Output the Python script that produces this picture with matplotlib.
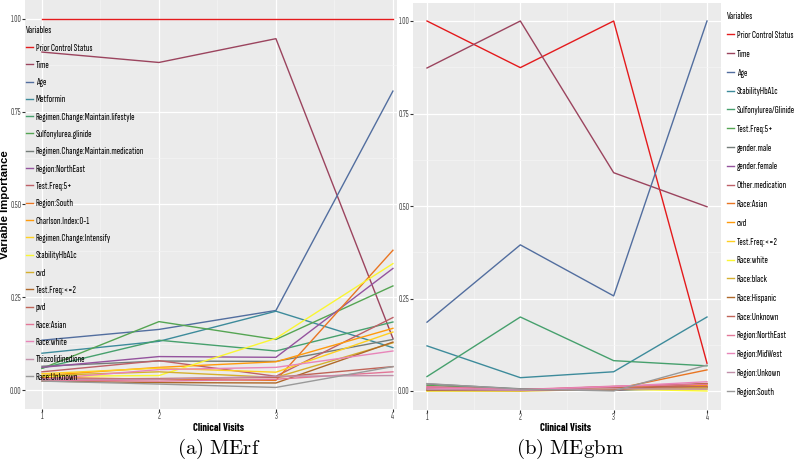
import numpy as np
import matplotlib
matplotlib.use("Agg")
import matplotlib.pyplot as plt
from matplotlib.colors import to_rgb
from matplotlib.ticker import MultipleLocator

plt.rcParams['font.family'] = ['Sofia Sans Extra Condensed', 'DejaVu Sans']
plt.rcParams['mathtext.fontset'] = 'cm'

visits = [1, 2, 3, 4]

# (a) MErf
rf_names = ['Prior Control Status', 'Time', 'Age', 'Metformin',
            'Regimen.Change:Maintain.lifestyle', 'Sulfonylurea.glinide',
            'Regimen.Change:Maintain.medication', 'Region:NorthEast', 'Test.Freq:5+',
            'Region:South', 'Charlson.Index:0-1', 'Regimen.Change:Intensify',
            'StabilityHbA1c', 'cvd', 'Test.Freq:<=2', 'pvd', 'Race:Asian',
            'Race:white', 'Thiazolidinedione', 'Race:Unknown']
rf_values = [
    [1.00, 1.00, 1.00, 1.00],
    [0.910, 0.882, 0.946, 0.140],
    [0.135, 0.164, 0.215, 0.805],
    [0.100, 0.132, 0.213, 0.115],
    [0.060, 0.135, 0.106, 0.184],
    [0.059, 0.185, 0.137, 0.281],
    [0.065, 0.079, 0.078, 0.137],
    [0.062, 0.091, 0.089, 0.328],
    [0.050, 0.080, 0.038, 0.196],
    [0.035, 0.030, 0.027, 0.377],
    [0.040, 0.062, 0.077, 0.167],
    [0.045, 0.060, 0.049, 0.157],
    [0.038, 0.040, 0.140, 0.341],
    [0.040, 0.050, 0.035, 0.128],
    [0.025, 0.021, 0.020, 0.130],
    [0.030, 0.032, 0.035, 0.064],
    [0.028, 0.025, 0.030, 0.050],
    [0.030, 0.056, 0.062, 0.106],
    [0.030, 0.030, 0.038, 0.040],
    [0.025, 0.017, 0.008, 0.064],
]

# (b) MEgbm
gbm_names = ['Prior Control Status', 'Time', 'Age', 'StabilityHbA1c',
             'Sulfonylurea/Glinide', 'Test.Freq:5+', 'gender.male', 'gender.female',
             'Other.medication', 'Race:Asian', 'cvd', 'Test.Freq:<=2', 'Race:white',
             'Race:black', 'Race:Hispanic', 'Race:Unknown', 'Region:NorthEast',
             'Region:MidWest', 'Region:Unkown', 'Region:South']
gbm_values = [
    [1.000, 0.874, 1.000, 0.075],
    [0.873, 1.000, 0.590, 0.498],
    [0.186, 0.395, 0.257, 1.000],
    [0.122, 0.036, 0.052, 0.200],
    [0.039, 0.200, 0.082, 0.068],
    [0.015, 0.005, 0.003, 0.010],
    [0.019, 0.006, 0.002, 0.008],
    [0.005, 0.002, 0.003, 0.012],
    [0.010, 0.003, 0.012, 0.020],
    [0.003, 0.002, 0.005, 0.057],
    [0.002, 0.001, 0.010, 0.015],
    [0.001, 0.001, 0.008, 0.005],
    [0.000, 0.000, 0.005, 0.000],
    [0.001, 0.002, 0.004, 0.010],
    [0.002, 0.001, 0.003, 0.020],
    [0.006, 0.002, 0.010, 0.012],
    [0.012, 0.004, 0.013, 0.018],
    [0.008, 0.003, 0.012, 0.025],
    [0.004, 0.002, 0.006, 0.005],
    [0.020, 0.005, 0.000, 0.070],
]

set1 = ['#E41A1C', '#377EB8', '#4DAF4A', '#984EA3', '#FF7F00',
        '#FFFF33', '#A65628', '#F781BF', '#999999']


def ramp(n):
    # like colorRampPalette(brewer.pal(9, "Set1"))(n)
    base = np.array([to_rgb(c) for c in set1])
    t = np.linspace(0, len(set1) - 1, n)
    cols = np.column_stack([np.interp(t, np.arange(len(set1)), base[:, k]) for k in range(3)])
    return [tuple(c) for c in cols]


def style(ax, xlim):
    ax.set_facecolor('#EBEBEB')
    ax.set_xlim(*xlim)
    ax.set_ylim(-0.05, 1.05)
    ax.xaxis.set_major_locator(MultipleLocator(1))
    ax.xaxis.set_minor_locator(MultipleLocator(0.5))
    ax.yaxis.set_major_locator(MultipleLocator(0.25))
    ax.yaxis.set_minor_locator(MultipleLocator(0.125))
    ax.grid(which='major', color='white', linewidth=0.9)
    ax.grid(which='minor', color='#F5F5F5', linewidth=0.5)
    ax.set_axisbelow(True)
    for s in ax.spines.values():
        s.set_visible(False)
    ax.tick_params(which='major', length=2, color='#333333', labelsize=6.5, labelcolor='#4D4D4D', pad=0.5)
    ax.tick_params(which='minor', length=0)
    ax.set_yticks([0, 0.25, 0.5, 0.75, 1.0])
    ax.set_yticklabels(['0.00', '0.25', '0.50', '0.75', '1.00'])


def draw(ax, names, values):
    cols = ramp(len(names))
    for name, vals, c in zip(names, values, cols):
        ax.plot(visits, vals, color=c, linewidth=1.0, label=name)


def add_legend(ax, fig, x, y, spacing):
    leg = ax.legend(loc='upper left', bbox_to_anchor=(x / 800, 1 - y / 468),
                    bbox_transform=fig.transFigure, title='Variables', fontsize=7.5,
                    title_fontsize=7.5, frameon=False, borderpad=0.1,
                    handlelength=0.65, handletextpad=0.25, labelspacing=spacing)
    leg._legend_box.align = 'left'
    for t in leg.get_texts():
        t.set_color('black')
    return leg


def main():
    fig = plt.figure(figsize=(8, 4.68), dpi=100)

    ax1 = fig.add_axes([25 / 800, 1 - 409 / 468, 372 / 800, 409 / 468])
    style(ax1, (0.855, 4.035))
    draw(ax1, rf_names, rf_values)
    add_legend(ax1, fig, 20, 20, 0.77)

    ax2 = fig.add_axes([413 / 800, 1 - 409.5 / 468, 308 / 800, 407 / 468])
    style(ax2, (0.85, 4.15))
    draw(ax2, gbm_names, gbm_values)
    add_legend(ax2, fig, 721, 6, 0.91)

    fig.text(5 / 800, 1 - 205 / 468, 'Variable Importance', rotation=90, ha='center', va='center',
             fontsize=8.2, fontweight='bold', family='Liberation Sans')
    fig.text(218 / 800, 1 - 428 / 468, 'Clinical Visits', ha='center', va='center',
             fontsize=7.5, fontweight='bold', family='Barlow Condensed')
    fig.text(566 / 800, 1 - 428 / 468, 'Clinical Visits', ha='center', va='center',
             fontsize=7.5, fontweight='bold', family='Barlow Condensed')

    fig.text(219 / 800, 1 - 449 / 468, r'$\mathrm{(a)\ MErf}$', ha='center', va='center', fontsize=15)
    fig.text(570 / 800, 1 - 449 / 468, r'$\mathrm{(b)\ MEgbm}$', ha='center', va='center', fontsize=15)

    fig.savefig('out.png', dpi=100, facecolor='white')


if __name__ == '__main__':
    main()
